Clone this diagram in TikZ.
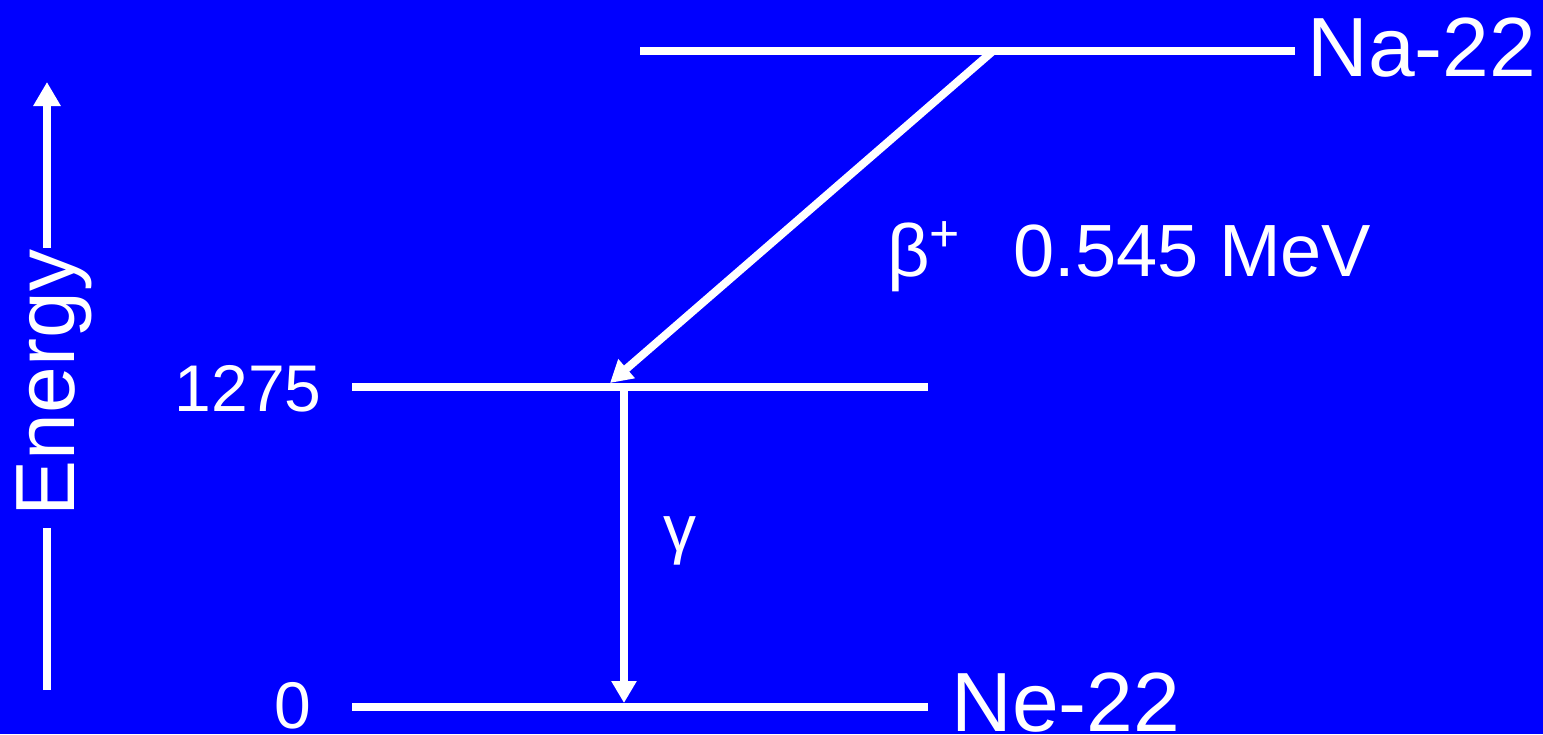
\documentclass[tikz,border=0pt]{standalone}
\usepackage{fontspec}
\setmainfont{Liberation Sans}
\usetikzlibrary{arrows.meta, positioning}
\definecolor{cBack}{RGB}{0,0,255}
\tikzset{
	level/.style    ={line width=4pt, white},
	trans/.style    ={line width=4pt, white, -{Triangle[length=11pt, width=12pt]}},
	lbl/.style      ={text=white, inner sep=0pt},
	nuclide/.style  ={lbl, font=\fontsize{42}{48}\selectfont},
	energylbl/.style={lbl, font=\fontsize{33}{38}\selectfont},
	decaylbl/.style ={lbl, font=\fontsize{37}{42}\selectfont},
}

\begin{document}
\begin{tikzpicture}[x=0.5pt, y=-0.5pt]
					\fill[cBack] (0,0) rectangle (1543,734);
					\useasboundingbox (0,0) rectangle (1543,734);
					% levels
					\coordinate (naL) at (640,51);  \coordinate (naR) at (1295,51);
					\coordinate (exL) at (352,387); \coordinate (exR) at (928,387);
					\coordinate (gsL) at (352,707); \coordinate (gsR) at (928,707);
					\draw[level] (naL) -- (naR);
					\draw[level] (exL) -- (exR);
					\draw[level] (gsL) -- (gsR);
					\node[nuclide, anchor=base west] (na) at (1307,76) {Na-22};
					\node[nuclide, anchor=base west] (ne) at (951,731) {Ne-22};
					\node[energylbl, anchor=base east] (e1275) at (322,411) {1275};
					\node[energylbl, anchor=base east] (e0) at (312,728) {0};
					% transitions
					\coordinate (bStart) at (993,51); \coordinate (bEnd) at (610,383);
					\coordinate (gStart) at (624,387); \coordinate (gEnd) at (624,703);
					\draw[trans] (bStart) -- (bEnd);
					\draw[trans] (gStart) -- (gEnd);
					\node[decaylbl, anchor=base west] (beta) at (887,276) {β\raisebox{3pt}{\textsuperscript{+}}};
					\node[decaylbl, anchor=base west] (ebeta) at (1013,276) {0.545 MeV};
					\node[energylbl] (gamma) at (680,541) {γ};
					% energy axis
					\node[nuclide, rotate=90, anchor=base, inner xsep=1pt] (energy) at (75,383) {Energy};
					\coordinate (eBot) at (47,690); \coordinate (eTop) at (47,82);
					\draw[level, shorten >=5pt] (eBot) -- (eBot |- energy.west);
					\draw[trans, -{Triangle[length=12pt, width=13pt]}] (eBot |- energy.east) -- (eTop);
				\end{tikzpicture}
\end{document}
